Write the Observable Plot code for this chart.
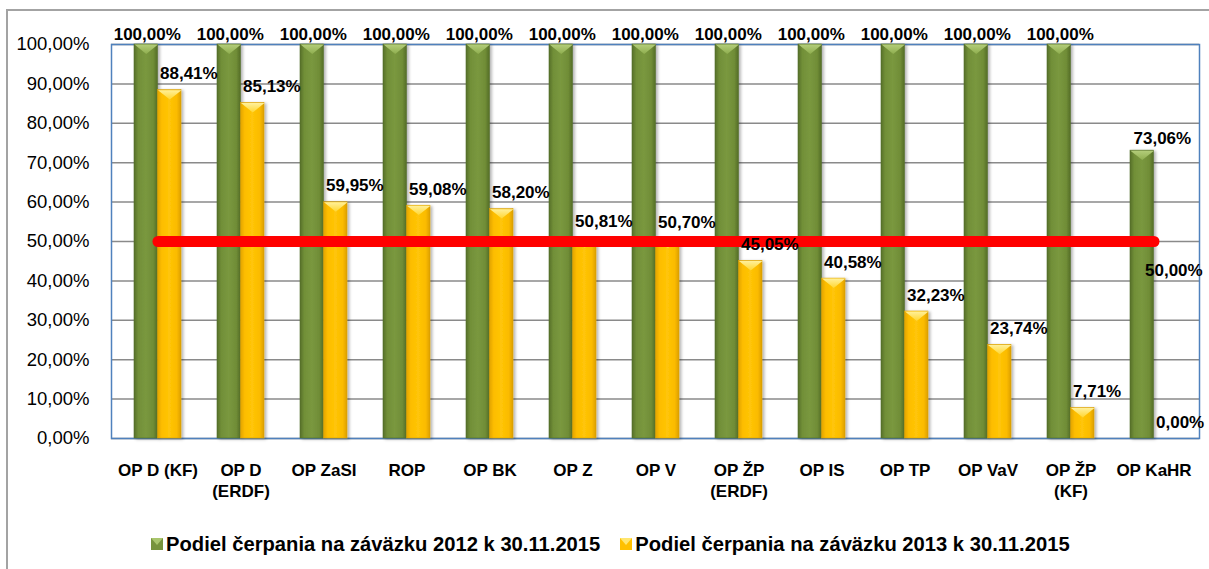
<!DOCTYPE html>
<html><head><meta charset="utf-8">
<script src="https://cdn.jsdelivr.net/npm/d3@7"></script>
<script src="https://cdn.jsdelivr.net/npm/@observablehq/plot@0.6"></script>
<style>
body{margin:0;background:#fff;font-family:"Liberation Sans",Arial,sans-serif;}
#wrap{position:relative;width:1209px;height:569px;overflow:hidden;}
#box{position:absolute;left:6px;top:9px;width:1400px;height:800px;border:2px solid #a3a3a3;pointer-events:none;}
#chart{position:absolute;left:0;top:0;}
#legend{position:absolute;left:151px;top:533px;height:22px;display:flex;align-items:center;font-weight:bold;font-size:20.2px;color:#000;white-space:nowrap;}
.item{display:flex;align-items:center;margin-right:20px;}
.item svg{margin-right:3px;}
</style></head><body>
<div id="wrap"><div id="box"></div><div id="chart"></div><div id="legend"></div></div>
<script>
const categories = ["OP D (KF)","OP D\n(ERDF)","OP ZaSI","ROP","OP BK","OP Z","OP V","OP ŽP\n(ERDF)","OP IS","OP TP","OP VaV","OP ŽP\n(KF)","OP KaHR"];
const share2012 = [100,100,100,100,100,100,100,100,100,100,100,100,73.06];
const share2013 = [88.41,85.13,59.95,59.08,58.20,50.81,50.70,45.05,40.58,32.23,23.74,7.71,0.00];
const threshold = 50;
const seriesNames = ["Podiel čerpania na záväzku 2012 k 30.11.2015","Podiel čerpania na záväzku 2013 k 30.11.2015"];
const yTicks = [0,10,20,30,40,50,60,70,80,90,100];

const rows2012 = categories.map((c,i)=>({cat:c, v:share2012[i]}));
const rows2013 = categories.map((c,i)=>({cat:c, v:share2013[i]}));
const rowsLine = categories.map(c=>({cat:c, v:threshold}));
const fmt = v => v.toFixed(2).replace(".", ",") + "%";

const HALF = 23.5;
const bevel = {draw(ctx, size){ const w = Math.sqrt(size/Math.PI); ctx.moveTo(-w,0); ctx.lineTo(w,0); ctx.lineTo(0,w*0.8); ctx.closePath(); }};

function defs(){
  const g = d3.create("svg:defs");
  const mk = (id, stops, vertical) => {
    const lg = g.append("linearGradient").attr("id", id).attr("x1",0).attr("x2",vertical?0:1).attr("y1",0).attr("y2",vertical?1:0);
    stops.forEach(([o,c]) => lg.append("stop").attr("offset",o).attr("stop-color",c));
  };
  mk("gGreen", [[0,"#566f29"],[0.18,"#718f38"],[0.5,"#7a983f"],[0.82,"#708d37"],[1,"#546c28"]]);
  mk("gYellow", [[0,"#e2a400"],[0.18,"#fdbd00"],[0.5,"#ffc508"],[0.82,"#fbbb00"],[1,"#dc9f00"]]);
  mk("bGreen", [[0,"#b3cd7a"],[1,"#8fae4f"]], true);
  mk("bYellow", [[0,"#fff09a"],[1,"#ffd630"]], true);
  const f = g.append("filter").attr("id","shadow").attr("x","-20%").attr("y","-5%").attr("width","150%").attr("height","115%");
  f.append("feDropShadow").attr("dx",2).attr("dy",1).attr("stdDeviation",1.5).attr("flood-color","#000").attr("flood-opacity",0.3);
  return g.node();
}

const textStyle = {fontSize:17, fontWeight:"bold", fill:"#000", lineAnchor:"bottom"};

const chart = Plot.plot({
  width: 1209,
  height: 515,
  marginTop: 44,
  marginBottom: 77,
  marginLeft: 111,
  marginRight: 10,
  style: {fontFamily:"Liberation Sans, Arial, sans-serif", background:"transparent", overflow:"visible", color:"#000"},
  x: {domain: categories, paddingInner: 0.438, paddingOuter: 0.219, align: 0.5},
  y: {domain: [0,100]},
  marks: [
    defs,
    Plot.gridY(yTicks, {stroke:"#8a8a8a", strokeOpacity:1, strokeWidth:1.5}),
    Plot.frame({stroke:"#4f81bd", strokeWidth:1.5}),
    Plot.barY(rows2012, {x:"cat", y:"v", fill:"url(#gGreen)", stroke:"#56702a", strokeWidth:0.6, insetRight:HALF, className:"shadowbar"}),
    Plot.barY(rows2013, {x:"cat", y:"v", fill:"url(#gYellow)", stroke:"#d9a000", strokeWidth:0.6, insetLeft:HALF, className:"shadowbar"}),
    Plot.dot(rows2012, {x:"cat", y:"v", symbol:bevel, r:HALF/2, dx:-HALF/2, fill:"url(#bGreen)", stroke:"none"}),
    Plot.dot(rows2013.filter(d=>d.v>0), {x:"cat", y:"v", symbol:bevel, r:HALF/2, dx:HALF/2, fill:"url(#bYellow)", stroke:"none"}),
    Plot.lineY(rowsLine, {x:"cat", y:"v", stroke:"#ff0000", strokeWidth:11, strokeLinecap:"round"}),
    Plot.axisY(yTicks, {tickFormat: fmt, tickSize:0, tickPadding:22, fontSize:18.5, label:null}),
    Plot.axisX({tickSize:0, tickPadding:22, fontSize:17, fontWeight:"bold", lineHeight:1.25, label:null}),
    Plot.text(rows2012.filter(d=>d.v>=100), {x:"cat", y:"v", text:d=>fmt(d.v), dx:-HALF/2+1, dy:-5, textAnchor:"middle", ...textStyle}),
    Plot.text(rows2012.filter(d=>d.v<100), {x:"cat", y:"v", text:d=>fmt(d.v), dx:-HALF+3, dy:-7, textAnchor:"start", ...textStyle}),
    Plot.text(rows2013, {x:"cat", y:"v", text:d=>fmt(d.v), dx:2, dy:-11, textAnchor:"start", ...textStyle}),
    Plot.text(rowsLine.slice(-1), {x:"cat", y:"v", text:d=>fmt(d.v), dx:-9, dy:34, textAnchor:"start", ...textStyle})
  ]
});
d3.select(chart).selectAll("g.shadowbar").attr("filter","url(#shadow)");
document.getElementById("chart").appendChild(chart);

const swatch = (base, top) => `<svg width="12" height="12" viewBox="0 0 12 12"><rect x="0" y="0" width="12" height="12" fill="${base}"/><path d="M0,0L12,0L6,7Z" fill="${top}"/></svg>`;
const legendColors = [["#77933c","#a9c56c"],["#ffc000","#ffe670"]];
document.getElementById("legend").innerHTML = seriesNames.map((n,i)=>`<div class="item">${swatch(...legendColors[i])}<span>${n}</span></div>`).join("");
</script>
</body></html>
